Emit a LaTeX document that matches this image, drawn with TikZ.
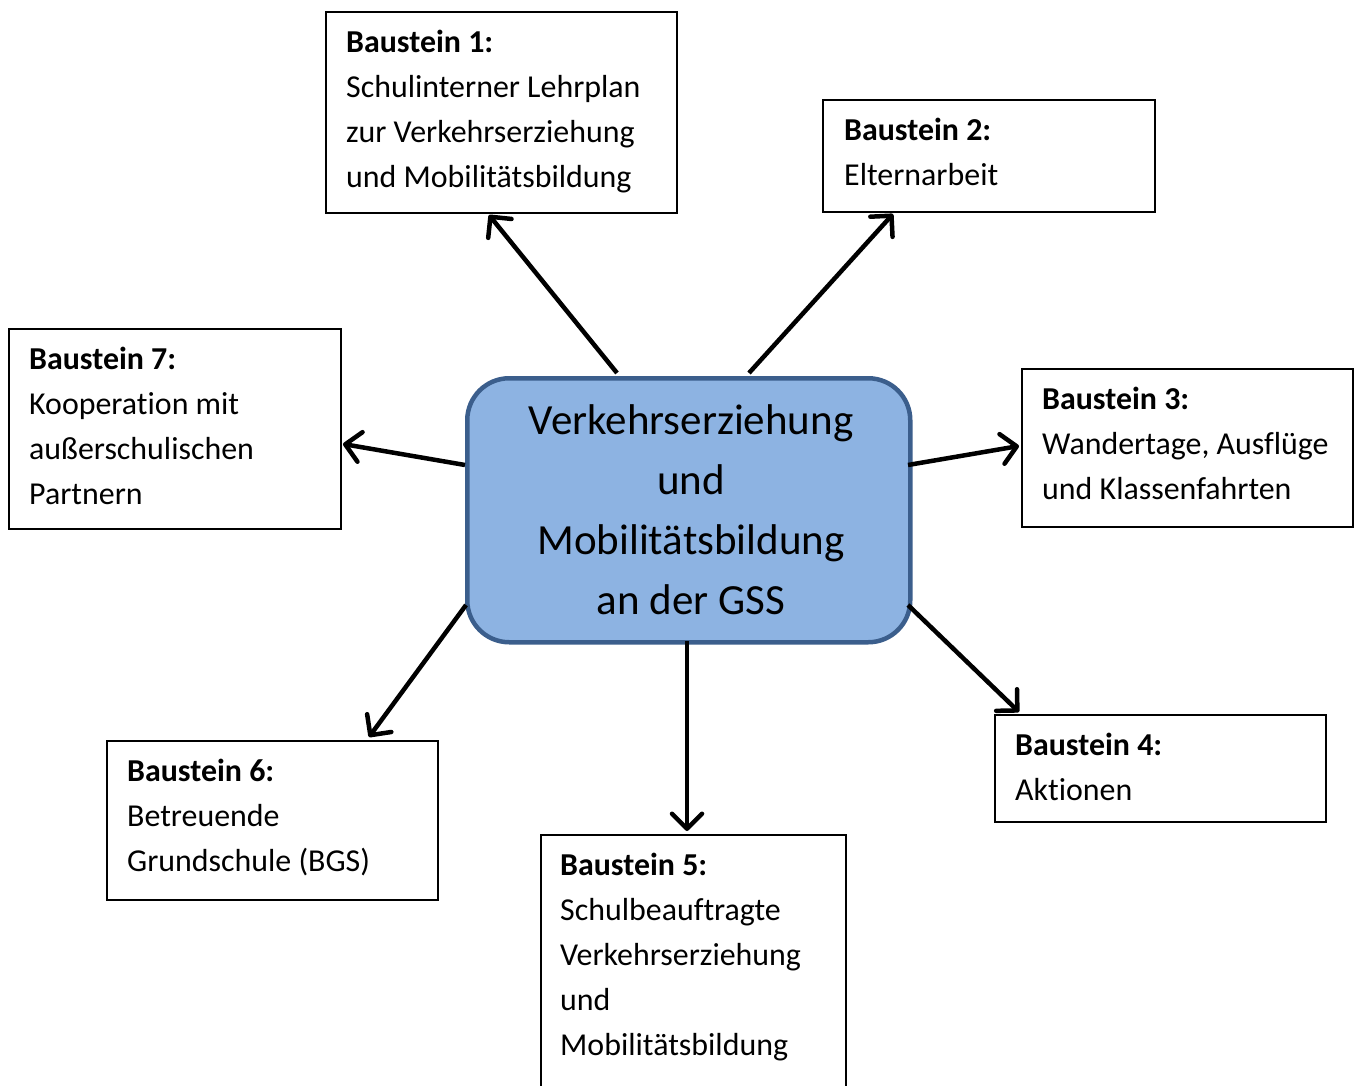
\documentclass[tikz,border=0pt]{standalone}
\usepackage{fontspec}
\setmainfont[Ligatures=NoCommon]{Carlito}
\usetikzlibrary{arrows.meta}
\definecolor{cfill}{HTML}{8DB3E2}
\definecolor{cedge}{HTML}{3B5E8C}
\begin{document}
\begin{tikzpicture}[x=1pt,y=-1pt,
  bbox/.style={draw=black, line width=2pt, inner sep=0pt, anchor=north west},
  btext/.style={anchor=north west, inner sep=0pt, align=left, font=\fontsize{31.9}{45}\selectfont},
  conn/.style={line width=4.5pt, -{Straight Barb[length=15pt,width=30pt,round]}},
]
\useasboundingbox (0,0) rectangle (1360,1086);
% center
\node[draw=cedge, fill=cfill, line width=4.5pt, rounded corners=42pt, minimum width=443pt, minimum height=264pt, anchor=north west] (c) at (465,376) {};
\node[anchor=north, inner sep=0pt, align=center, font=\fontsize{43}{60}\selectfont] (ct) at (691,389) {\rule{0pt}{45pt}Verkehrserziehung\\und\\Mobilitätsbildung\\an der GSS};
% boxes
\node[bbox, minimum width=351pt, minimum height=201pt] (b1) at (325,11) {};
\node[btext] (t1) at (346,22) {\rule{0pt}{30pt}\textbf{Baustein 1:}\\Schulinterner Lehrplan\\zur Verkehrserziehung\\und Mobilitätsbildung};
\node[bbox, minimum width=332pt, minimum height=112pt] (b2) at (822,99) {};
\node[btext] (t2) at (844,110) {\rule{0pt}{30pt}\textbf{Baustein 2:}\\Elternarbeit};
\node[bbox, minimum width=331pt, minimum height=158pt] (b3) at (1021,368) {};
\node[btext] (t3) at (1042,379) {\rule{0pt}{30pt}\textbf{Baustein 3:}\\Wandertage, Ausflüge\\und Klassenfahrten};
\node[bbox, minimum width=331pt, minimum height=107pt] (b4) at (994,714) {};
\node[btext] (t4) at (1015,725) {\rule{0pt}{30pt}\textbf{Baustein 4:}\\Aktionen};
\node[bbox, minimum width=305pt, minimum height=300pt] (b5) at (540,834) {};
\node[btext] (t5) at (560,845) {\rule{0pt}{30pt}\textbf{Baustein 5:}\\Schulbeauftragte\\Verkehrserziehung\\und\\Mobilitätsbildung};
\node[bbox, minimum width=331pt, minimum height=159pt] (b6) at (106,740) {};
\node[btext] (t6) at (127,751) {\rule{0pt}{30pt}\textbf{Baustein 6:}\\Betreuende\\Grundschule (BGS)};
\node[bbox, minimum width=332pt, minimum height=200pt] (b7) at (8,328) {};
\node[btext] (t7) at (29,339) {\rule{0pt}{30pt}\textbf{Baustein 7:}\\Kooperation mit\\außerschulischen\\Partnern};
% connector ends
\coordinate (s1) at (617,373); \coordinate (e1) at (489,215);
\coordinate (s2) at (749,373); \coordinate (e2) at (893,214);
\coordinate (s3) at (908,465); \coordinate (e3) at (1019,446);
\coordinate (s4) at (908,605); \coordinate (e4) at (1019,712);
\coordinate (s5) at (687,641); \coordinate (e5) at (687,831);
\coordinate (s6) at (466,605); \coordinate (e6) at (369,737);
\coordinate (s7) at (465,465); \coordinate (e7) at (343,444);
\foreach \i in {1,...,7} {\draw[conn] (s\i) -- (e\i);}
\end{tikzpicture}
\end{document}
